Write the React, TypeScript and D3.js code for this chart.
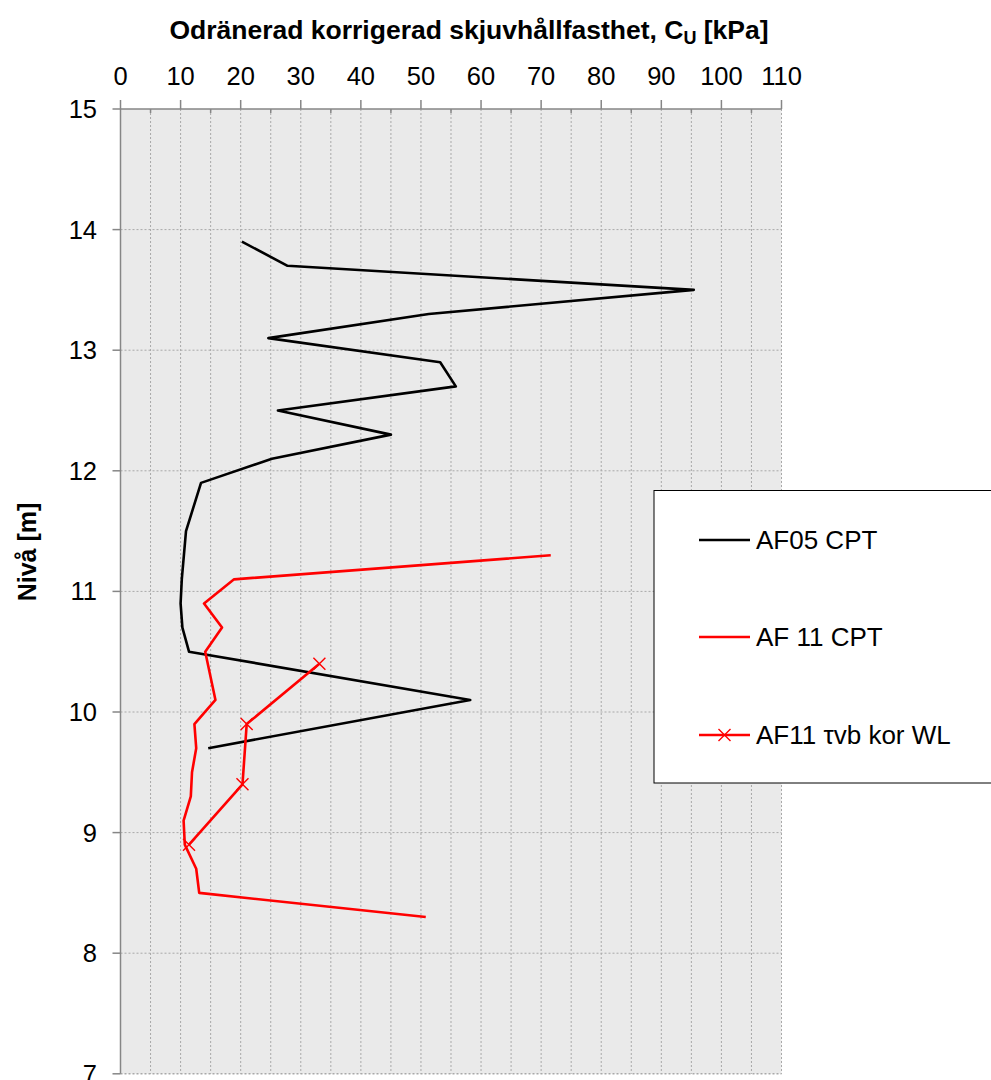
import React from "react";
import * as d3 from "d3";

const xTicks = [0, 10, 20, 30, 40, 50, 60, 70, 80, 90, 100, 110];
const yTicks = [7, 8, 9, 10, 11, 12, 13, 14, 15];

const af05Level = [13.9, 13.7, 13.5, 13.3, 13.1, 12.9, 12.7, 12.5, 12.3, 12.1, 11.9, 11.5, 11.1, 10.9, 10.7, 10.5, 10.1, 9.7];
const af05Cu = [20.2, 27.8, 95.4, 51.3, 24.6, 53.2, 55.8, 26.2, 45.0, 25.2, 13.4, 10.9, 10.2, 10.0, 10.3, 11.4, 58.2, 14.6];

const af11Level = [11.3, 11.1, 10.9, 10.7, 10.5, 10.1, 9.9, 9.7, 9.5, 9.3, 9.1, 8.9, 8.7, 8.5, 8.3];
const af11Cu = [71.6, 18.9, 13.9, 16.9, 14.1, 15.8, 12.3, 12.6, 11.9, 11.7, 10.5, 10.7, 12.6, 13.1, 50.8];

const tvbLevel = [10.4, 9.9, 9.4, 8.9];
const tvbCu = [33.1, 21.0, 20.3, 11.4];

const legendNames = ["AF05 CPT", "AF 11 CPT", "AF11 τvb kor WL"];
const legendColors = ["#000000", "#ff0000", "#ff0000"];

export default function App() {
  const x = d3.scaleLinear().domain([0, 110]).range([120.5, 781.5]);
  const y = d3.scaleLinear().domain([7, 15]).range([1073.8, 109]);
  const line = d3
    .line<[number, number]>()
    .x((d) => x(d[0]))
    .y((d) => y(d[1]));
  const af05 = af05Cu.map((c, i) => [c, af05Level[i]] as [number, number]);
  const af11 = af11Cu.map((c, i) => [c, af11Level[i]] as [number, number]);
  const tvb = tvbCu.map((c, i) => [c, tvbLevel[i]] as [number, number]);
  const minor = d3.range(5, 111, 5);
  const font = "Liberation Sans, Arial, sans-serif";
  const axisCol = "#868686";
  const gridCol = "#a9a9a9";
  const x0 = x(0);
  const x1 = x(110);
  const yTop = y(15);
  const yBot = y(7);
  const fs = 25.5;
  const cross = (cx: number, cy: number, s: number, key: string) => (
    <path
      key={key}
      d={`M${cx - s},${cy - s}L${cx + s},${cy + s}M${cx - s},${cy + s}L${cx + s},${cy - s}`}
      stroke="#ff0000"
      strokeWidth={1.4}
      fill="none"
    />
  );
  const legY = [540, 637, 735];
  return (
    <svg
      width={991}
      height={1080}
      style={{ position: "absolute", left: 0, top: 0, display: "block" }}
      fontFamily={font}
    >
      <rect x={0} y={0} width={991} height={1080} fill="#ffffff" />
      <rect x={x0} y={yTop} width={x1 - x0} height={yBot - yTop} fill="#eaeaea" />
      {minor.map((v) => (
        <line
          key={"vg" + v}
          x1={x(v)}
          x2={x(v)}
          y1={yTop}
          y2={yBot}
          stroke={gridCol}
          strokeWidth={1}
          strokeDasharray="2,2"
        />
      ))}
      {yTicks.filter((v) => v < 15).map((v) => (
        <line
          key={"hg" + v}
          x1={x0}
          x2={x1}
          y1={y(v)}
          y2={y(v)}
          stroke={gridCol}
          strokeWidth={v === 7 ? 1.5 : 1}
          strokeDasharray="2,2"
        />
      ))}
      <line x1={x0} x2={x1} y1={yTop} y2={yTop} stroke={axisCol} strokeWidth={1.5} />
      <line x1={x0} x2={x0} y1={yTop} y2={yBot} stroke={axisCol} strokeWidth={1.5} />
      {xTicks.map((v) => (
        <g key={"xt" + v}>
          <line x1={x(v)} x2={x(v)} y1={yTop - 9} y2={yTop} stroke={axisCol} strokeWidth={1.5} />
          <text x={x(v)} y={85} fontSize={fs} textAnchor="middle" fill="#000">
            {v}
          </text>
        </g>
      ))}
      {minor
        .filter((v) => v % 10 !== 0)
        .map((v) => (
          <line key={"mt" + v} x1={x(v)} x2={x(v)} y1={yTop} y2={yTop + 4} stroke={axisCol} strokeWidth={1.5} />
        ))}
      {yTicks.map((v) => (
        <g key={"yt" + v}>
          <line x1={x0 - 8} x2={x0} y1={y(v)} y2={y(v)} stroke={axisCol} strokeWidth={1.5} />
          <text x={97} y={y(v) + 9} fontSize={fs} textAnchor="end" fill="#000">
            {v}
          </text>
        </g>
      ))}
      <text x={469} y={39} fontSize={26.5} fontWeight="bold" textAnchor="middle" fill="#000">
        Odränerad korrigerad skjuvhållfasthet, C
        <tspan fontSize={18} dy={5}>U</tspan>
        <tspan dy={-5}> [kPa]</tspan>
      </text>
      <text
        transform="translate(36,552) rotate(-90)"
        fontSize={25}
        fontWeight="bold"
        textAnchor="middle"
        fill="#000"
      >
        Nivå [m]
      </text>
      <path d={line(af05) || ""} fill="none" stroke="#000" strokeWidth={2.6} strokeLinejoin="round" />
      <path d={line(af11) || ""} fill="none" stroke="#ff0000" strokeWidth={2.6} strokeLinejoin="round" />
      <path d={line(tvb) || ""} fill="none" stroke="#ff0000" strokeWidth={2.6} strokeLinejoin="round" />
      {tvb.map((d, i) => cross(x(d[0]), y(d[1]), 6, "c" + i))}
      <rect x={654} y={490.5} width={345} height={292.5} fill="#ffffff" stroke="#000" strokeWidth={1} />
      {legendNames.map((n, i) => (
        <g key={"lg" + i}>
          <line x1={699} x2={750} y1={legY[i]} y2={legY[i]} stroke={legendColors[i]} strokeWidth={2.6} />
          {i === 2 && cross(724.5, legY[i], 6, "lc")}
          <text x={756} y={legY[i] + 8.5} fontSize={26} fill="#000">
            {n}
          </text>
        </g>
      ))}
    </svg>
  );
}
